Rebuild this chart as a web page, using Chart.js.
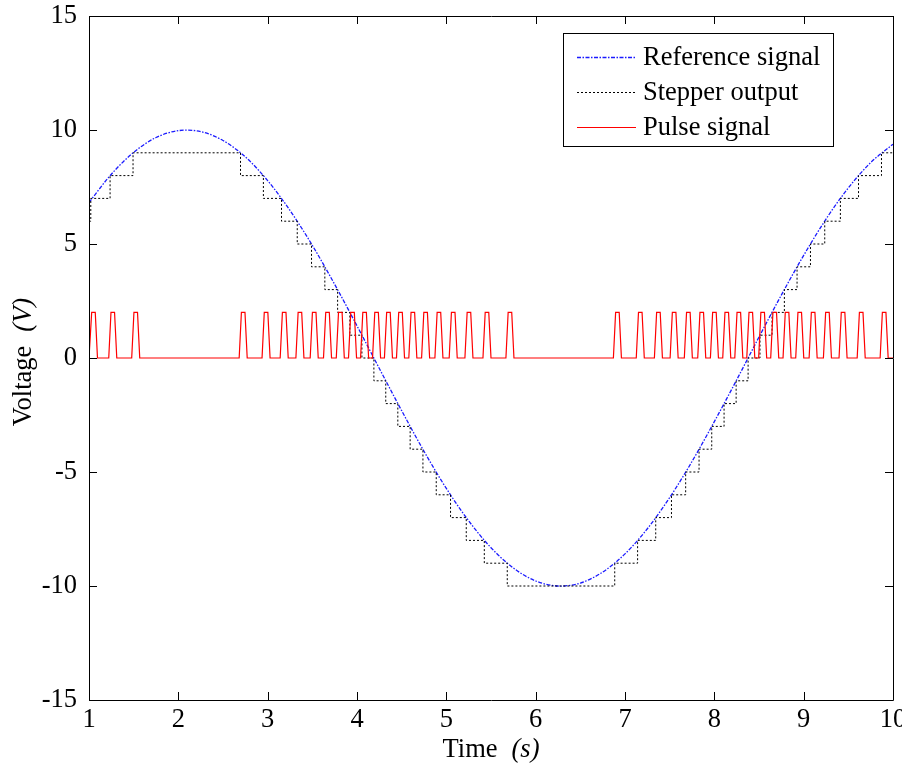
<!DOCTYPE html>
<html><head><meta charset="utf-8">
<script src="https://cdn.jsdelivr.net/npm/chart.js@4.4.1/dist/chart.umd.min.js"></script>
<style>html,body{margin:0;padding:0;background:#fff;} #wrap{width:902px;height:765px;}</style>
</head><body><div id="wrap"><canvas id="c" width="902" height="765"></canvas></div>
<script>
// ---------- data ----------
const seriesNames = ['Reference signal', 'Stepper output', 'Pulse signal'];
const xTickValues = [1, 2, 3, 4, 5, 6, 7, 8, 9, 10];
const yTickValues = [-15, -10, -5, 0, 5, 10, 15];

// reference signal samples (time s, voltage V)
const refTimes = [1.00,1.25,1.50,1.75,2.00,2.25,2.50,2.75,3.00,3.25,3.50,3.75,4.00,4.25,4.50,4.75,5.00,5.25,5.50,5.75,6.00,6.25,6.50,6.75,7.00,7.25,7.50,7.75,8.00,8.25,8.50,8.75,9.00,9.25,9.50,9.75,10.00];
const refValues = [6.82,8.06,9.02,9.67,9.97,9.93,9.54,8.82,7.78,6.47,4.94,3.23,1.41,-0.46,-2.31,-4.09,-5.72,-7.14,-8.32,-9.21,-9.78,-10.00,-9.87,-9.39,-8.59,-7.49,-6.12,-4.54,-2.79,-0.96,0.92,2.76,4.50,6.09,7.46,8.57,9.38];

// stepper output: times at which the level changes, and the level after each change
const stepTimes = [1.00,1.02,1.236,1.493,2.696,2.952,3.155,3.331,3.491,3.640,3.783,3.920,4.055,4.189,4.322,4.457,4.595,4.738,4.887,5.047,5.223,5.425,5.682,6.885,7.141,7.344,7.520,7.679,7.829,7.971,8.109,8.244,8.378,8.511,8.646,8.784,8.926,9.076,9.236,9.411,9.614,9.871,10.00];
const stepLevels = [6,7,8,9,8,7,6,5,4,3,2,1,0,-1,-2,-3,-4,-5,-6,-7,-8,-9,-10,-9,-8,-7,-6,-5,-4,-3,-2,-1,0,1,2,3,4,5,6,7,8,9,9];

// pulse signal: one pulse of this height at every step of the stepper
const pulseTimes = stepTimes.slice(1, -1);
const pulseHeight = 2;

// ---------- build library data ----------
const refData = refTimes.map((t, i) => ({x: t, y: refValues[i]}));
const stepData = stepTimes.map((t, i) => ({x: t, y: stepLevels[i]}));
const pulseData = [{x: xTickValues[0], y: 0}];
for (const tc of pulseTimes) {
  pulseData.push({x: tc - 0.015, y: 0}, {x: tc + 0.01, y: pulseHeight},
                 {x: tc + 0.05, y: pulseHeight}, {x: tc + 0.075, y: 0});
}
pulseData.push({x: xTickValues[xTickValues.length - 1], y: 0});

const FONT = '"Liberation Serif", "Times New Roman", serif';
const FS = 26.5;

const framePlugin = {
  id: 'frame',
  afterDraw(chart) {
    const {ctx, chartArea: a, scales} = chart;
    const xs = scales.x, ys = scales.y;
    ctx.save();
    ctx.strokeStyle = '#000';
    ctx.lineWidth = 1;
    ctx.beginPath();
    ctx.rect(Math.round(a.left) + 0.5, Math.round(a.top) + 0.5, Math.round(a.right - a.left), Math.round(a.bottom - a.top));
    ctx.stroke();
    const tl = 8;
    ctx.beginPath();
    for (const v of xTickValues) {
      const px = Math.round(xs.getPixelForValue(v)) + 0.5;
      ctx.moveTo(px, a.bottom); ctx.lineTo(px, a.bottom - tl);
      ctx.moveTo(px, a.top); ctx.lineTo(px, a.top + tl);
    }
    for (const v of yTickValues) {
      const py = Math.round(ys.getPixelForValue(v)) + 0.5;
      ctx.moveTo(a.left, py); ctx.lineTo(a.left + tl, py);
      ctx.moveTo(a.right, py); ctx.lineTo(a.right - tl, py);
    }
    ctx.stroke();

    // axis titles
    ctx.fillStyle = '#000';
    ctx.textBaseline = 'alphabetic';
    ctx.textAlign = 'left';
    const normal = FS + 'px ' + FONT, ital = 'italic ' + FS + 'px ' + FONT;
    ctx.font = normal;
    const w1 = ctx.measureText('Time').width;
    const gap = 14;
    ctx.font = ital;
    const w2 = ctx.measureText('(s)').width;
    const cx = (a.left + a.right) / 2;
    let sx = cx - (w1 + gap + w2) / 2;
    ctx.font = normal; ctx.fillText('Time', sx, 757);
    ctx.font = ital; ctx.fillText('(s)', sx + w1 + gap, 757);
    ctx.save();
    ctx.translate(31, (a.top + a.bottom) / 2 + 4);
    ctx.rotate(-Math.PI / 2);
    ctx.font = normal;
    const v1 = ctx.measureText('Voltage').width;
    ctx.font = ital;
    const v2 = ctx.measureText('(V)').width;
    let sy = -(v1 + gap + v2) / 2;
    ctx.font = normal; ctx.fillText('Voltage', sy, 0);
    ctx.font = ital; ctx.fillText('(V)', sy + v1 + gap, 0);
    ctx.restore();

    // legend
    const lx = 563, ly = 33, lw = 270, lh = 113;
    ctx.fillStyle = '#fff';
    ctx.fillRect(lx, ly, lw, lh);
    ctx.strokeStyle = '#000';
    ctx.lineWidth = 1;
    ctx.setLineDash([]);
    ctx.strokeRect(lx + 0.5, ly + 0.5, lw, lh);
    const rows = [57, 92, 127];
    chart.data.datasets.forEach((ds, i) => {
      ctx.save();
      ctx.strokeStyle = ds.borderColor;
      ctx.lineWidth = ds.borderWidth;
      ctx.setLineDash(ds.borderDash || []);
      ctx.beginPath();
      ctx.moveTo(577, rows[i] + 0.5); ctx.lineTo(636, rows[i] + 0.5);
      ctx.stroke();
      ctx.restore();
      ctx.fillStyle = '#000';
      ctx.font = normal;
      ctx.textBaseline = 'middle';
      ctx.fillText(ds.label, 643, rows[i] + 1);
    });
    ctx.restore();
  }
};

new Chart(document.getElementById('c'), {
  type: 'line',
  data: {
    datasets: [
      {label: seriesNames[0], data: refData, borderColor: '#1a1aff', borderWidth: 1.3,
       borderDash: [4, 1.5, 1.5, 1.5], pointRadius: 0, tension: 0.33, fill: false, order: 2},
      {label: seriesNames[1], data: stepData, borderColor: '#000000', borderWidth: 1,
       borderDash: [2, 2], pointRadius: 0, stepped: 'before', fill: false, order: 1},
      {label: seriesNames[2], data: pulseData, borderColor: '#ff0000', borderWidth: 1.2,
       pointRadius: 0, tension: 0, fill: false, order: 0}
    ]
  },
  options: {
    responsive: false,
    animation: false,
    devicePixelRatio: 1,
    layout: {padding: {left: 0, right: 9, top: 16, bottom: 0}},
    plugins: {legend: {display: false}, tooltip: {enabled: false}},
    scales: {
      x: {
        type: 'linear', min: 1, max: 10,
        afterBuildTicks: s => { s.ticks = xTickValues.map(v => ({value: v})); },
        afterFit: s => { s.height = 65; s.paddingLeft = 0; s.paddingRight = 0; },
        grid: {display: false, drawTicks: false},
        border: {display: false},
        ticks: {color: '#000', padding: 4, maxRotation: 0, autoSkip: false,
                font: {family: FONT, size: FS}}
      },
      y: {
        type: 'linear', min: -15, max: 15,
        afterBuildTicks: s => { s.ticks = yTickValues.map(v => ({value: v})); },
        afterFit: s => { s.width = 89; s.paddingTop = 0; s.paddingBottom = 0; },
        grid: {display: false, drawTicks: false},
        border: {display: false},
        ticks: {color: '#000', padding: 12, autoSkip: false,
                font: {family: FONT, size: FS}}
      }
    }
  },
  plugins: [framePlugin]
});
</script>
</body></html>
